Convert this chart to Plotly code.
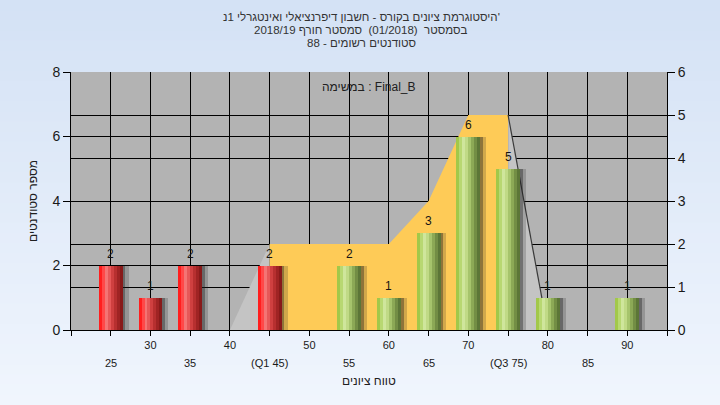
import plotly.graph_objects as go

# ---------------- data ----------------
fail_grades = [25, 30, 35, 45]
fail_counts = [2, 1, 2, 2]
pass_grades = [55, 60, 65, 70, 75, 80, 90]
pass_counts = [2, 1, 3, 6, 5, 1, 1]

area_x = [40, 45, 50, 55, 60, 65, 70, 75, 80]
area_y = [0, 2, 2, 2, 2, 3, 5, 5, 0]
q1 = 45
q3 = 75

grid_ticks = [20, 25, 30, 35, 40, 45, 50, 55, 60, 65, 70, 75, 80, 85, 90, 95]
row1_ticks = [30, 40, 50, 60, 70, 80, 90]
row1_labels = ["30", "40", "50", "60", "70", "80", "90"]
row2_ticks = [25, 35, 45, 55, 65, 75, 85]
row2_labels = ["25", "35", "(Q1 45)", "55", "65", "(Q3 75)", "85"]

title_lines = [
    "היסטוגרמת ציונים בקורס - חשבון דיפרנציאלי ואינטגרלי 1נ'",
    "בסמסטר  (01/2018)  סמסטר חורף 2018/19",
    "סטודנטים רשומים - 88",
]
task_label = "במשימה : Final_B"
x_title = "טווח ציונים"
y_title = "מספר סטודנטים"

# ---------------- style ----------------
FONT = "Liberation Sans, Arial, sans-serif"
BAR_W = 3.0
red_grad = ["#FF1E1E", "#FF4848", "#F47474", "#E65858", "#CF4040", "#B73030", "#9F2424", "#881A1A"]
green_grad = ["#A2C84A", "#B8D872", "#CFE69C", "#C0DA86", "#A6C46C", "#8CA956", "#738E45", "#5C7637"]

fig = go.Figure()

# area (on base y axis, right side 0..6)
def seg(lo, hi):
    xs = [x for x in area_x if lo <= x <= hi]
    ys = [y for x, y in zip(area_x, area_y) if lo <= x <= hi]
    return xs, ys

lx, ly = seg(area_x[0], q1)
mx, my = seg(q1, q3)
rx, ry = seg(q3, area_x[-1])
fig.add_trace(go.Scatter(x=lx, y=ly, fill="tozeroy", mode="lines", line=dict(width=0),
                         fillcolor="#C4C4C4", yaxis="y", hoverinfo="skip", showlegend=False))
fig.add_trace(go.Scatter(x=mx, y=my, fill="tozeroy", mode="lines", line=dict(width=0),
                         fillcolor="#FECB57", yaxis="y", hoverinfo="skip", showlegend=False))
fig.add_trace(go.Scatter(x=rx, y=ry, fill="tozeroy", mode="lines", line=dict(width=1.2, color="#3A3A3A"),
                         fillcolor="#C4C4C4", yaxis="y", hoverinfo="skip", showlegend=False))

# bars (on overlaying y2, left side 0..8)
def add_bars(xs, ys, grad):
    # shadow
    for off, w, col in [(BAR_W / 2, 0.35, "rgba(30,30,30,0.5)"), (BAR_W / 2 + 0.35, 0.4, "rgba(30,30,30,0.2)")]:
        fig.add_trace(go.Bar(x=xs, y=ys, offset=off, width=w, marker=dict(color=col, line=dict(width=0)),
                             yaxis="y2", hoverinfo="skip", showlegend=False))
    n = len(grad)
    sw = BAR_W / n
    for i, c in enumerate(grad):
        fig.add_trace(go.Bar(x=xs, y=ys, offset=-BAR_W / 2 + i * sw, width=sw * 1.02,
                             marker=dict(color=c, line=dict(width=0)),
                             yaxis="y2", hoverinfo="skip", showlegend=False))

add_bars(fail_grades, fail_counts, red_grad)
add_bars(pass_grades, pass_counts, green_grad)

annotations = []
for xs, ys in [(fail_grades, fail_counts), (pass_grades, pass_counts)]:
    for x, y in zip(xs, ys):
        annotations.append(dict(x=x, y=y, xref="x", yref="y2", text=str(y), showarrow=False,
                                yshift=12, font=dict(family=FONT, size=12, color="#151515")))

for x, t in zip(row2_ticks, row2_labels):
    annotations.append(dict(x=x, y=0, xref="x", yref="paper", text=t, showarrow=False,
                            yanchor="middle", yshift=-33, font=dict(family=FONT, size=11, color="#1A1A1A")))

# title lines
for i, (t, py) in enumerate(zip(title_lines, [17, 30, 43])):
    annotations.append(dict(x=(361 - 71) / 596, y=(330 - py) / 258, xref="paper", yref="paper",
                            text=t, showarrow=False, xanchor="center", yanchor="middle",
                            font=dict(family=FONT, size=11.5, color="#333333")))

annotations.append(dict(x=0.5, y=(330 - 87) / 258, xref="paper", yref="paper", text=task_label,
                        showarrow=False, xanchor="center", yanchor="middle",
                        font=dict(family=FONT, size=12, color="#202020")))
annotations.append(dict(x=0.5, y=(330 - 381) / 258, xref="paper", yref="paper", text=x_title,
                        showarrow=False, xanchor="center", yanchor="middle",
                        font=dict(family=FONT, size=12, color="#202020")))
annotations.append(dict(x=(33 - 71) / 596, y=0.5, xref="paper", yref="paper", text=y_title,
                        showarrow=False, textangle=-90, xanchor="center", yanchor="middle",
                        font=dict(family=FONT, size=12, color="#202020")))

# background gradient bands
shapes = []
N = 40
top = (0xD4, 0xE2, 0xF5)
bot = (0xF0, 0xF5, 0xFD)
for i in range(N):
    t = i / (N - 1)
    c = tuple(int(round(top[k] + (bot[k] - top[k]) * t)) for k in range(3))
    py0 = i * 405 / N
    py1 = (i + 1) * 405 / N + 1
    shapes.append(dict(type="rect", xref="paper", yref="paper", layer="below",
                       x0=-0.2, x1=1.2, y0=(330 - py1) / 258, y1=(330 - py0) / 258,
                       fillcolor="rgb(%d,%d,%d)" % c, line=dict(width=0)))
shapes.append(dict(type="rect", xref="paper", yref="paper", layer="below", x0=0, x1=1, y0=0, y1=1,
                   fillcolor="#B3B3B3", line=dict(width=0)))

tick_text = [row1_labels[row1_ticks.index(v)] if v in row1_ticks else "" for v in grid_ticks]

fig.update_layout(
    width=720, height=405,
    margin=dict(l=71, r=53, t=72, b=75),
    paper_bgcolor="#E2ECF9",
    plot_bgcolor="#B3B3B3",
    barmode="overlay",
    bargap=0,
    showlegend=False,
    font=dict(family=FONT, color="#1A1A1A"),
    shapes=shapes,
    annotations=annotations,
    xaxis=dict(range=[20, 95], tickmode="array", tickvals=grid_ticks, ticktext=tick_text,
               showgrid=True, gridcolor="#000000", gridwidth=1, zeroline=False,
               ticks="outside", ticklen=5, tickcolor="#000000", showline=True, linecolor="#000000",
               tickfont=dict(size=11, color="#1A1A1A"), fixedrange=True),
    yaxis=dict(range=[0, 6], side="right", tickmode="linear", tick0=0, dtick=1,
               showgrid=True, gridcolor="#000000", gridwidth=1, zeroline=False,
               ticks="outside", ticklen=7, tickcolor="#000000", showline=True, linecolor="#000000",
               tickfont=dict(size=14, color="#1A1A1A"), fixedrange=True),
    yaxis2=dict(range=[0, 8], side="left", overlaying="y", tickmode="linear", tick0=0, dtick=2,
                showgrid=True, gridcolor="#000000", gridwidth=1, zeroline=False,
                ticks="outside", ticklen=7, tickcolor="#000000", showline=True, linecolor="#000000",
                tickfont=dict(size=14, color="#1A1A1A"), fixedrange=True),
)

fig.write_html("out.html", config={"displayModeBar": False},
               post_script="document.body.style.margin='0';document.body.style.overflow='hidden';")
